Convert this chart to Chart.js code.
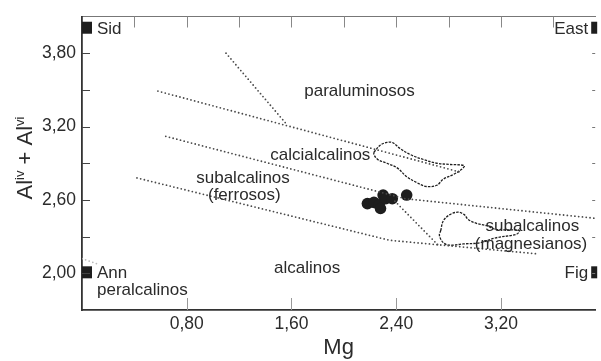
<!DOCTYPE html>
<html>
<head>
<meta charset="utf-8">
<script src="https://cdn.jsdelivr.net/npm/chart.js@4"></script>
<style>
  html, body { margin: 0; padding: 0; background: #fff; }
  #wrap { width: 601px; height: 361px; }
</style>
</head>
<body>
<div id="wrap"><canvas id="chart"></canvas></div>
<script>
// axis ticks
const xTicksBottom = [0.8, 1.6, 2.4, 3.2];
const xTicksTop = [0.4, 0.8, 1.2, 1.6, 2.0, 2.4, 2.8, 3.2, 3.6];
const yTicks = [2.0, 2.3, 2.6, 2.9, 3.2, 3.5, 3.8];
const yTickLabels = [2.0, 2.6, 3.2, 3.8];

// biotite analyses
const sampleMg = [2.18, 2.23, 2.27, 2.28, 2.30, 2.32, 2.37, 2.48];
const sampleAl = [2.57, 2.58, 2.56, 2.53, 2.64, 2.61, 2.61, 2.64];

// dotted field boundaries, [Mg, Al]
const lineParalum = [[1.10, 3.80], [1.57, 3.21]];
const lineUpper = [[0.58, 3.49], [2.88, 2.83]];
const lineMiddle = [[0.64, 3.12], [2.47, 2.61], [3.92, 2.45]];
const lineLower = [[0.42, 2.78], [2.35, 2.27], [3.47, 2.16]];
const lineShort = [[2.39, 2.59], [2.73, 2.22]];
const lineAnn = [[0.0, 2.12], [0.11, 2.08]];

// dashed outlines
const fieldCalc = [[2.23,2.99],[2.28,3.05],[2.33,3.07],[2.37,3.07],[2.43,3.02],[2.51,2.97],[2.61,2.93],[2.71,2.90],[2.81,2.89],[2.92,2.88],[2.90,2.85],[2.84,2.81],[2.76,2.77],[2.71,2.72],[2.63,2.71],[2.56,2.74],[2.48,2.79],[2.41,2.86],[2.33,2.90],[2.26,2.93],[2.23,2.97],[2.23,2.99]];
const fieldMagn = [[2.74,2.35],[2.76,2.43],[2.81,2.48],[2.87,2.50],[2.92,2.48],[2.95,2.44],[3.01,2.41],[3.09,2.39],[3.16,2.36],[3.34,2.35],[3.32,2.32],[3.16,2.29],[3.04,2.25],[2.91,2.24],[2.81,2.23],[2.76,2.25],[2.73,2.31],[2.74,2.35]];

// end members
const endNames = ['Sid', 'East', 'Ann', 'Fig'];
const endMg = [0, 3.92, 0, 3.92];
const endAl = [4.0, 4.0, 2.0, 2.0];

// field names (centre Mg, baseline Al)
const fieldNames = ['paraluminosos', 'calcialcalinos', 'subalcalinos', '(ferrosos)', 'alcalinos', 'subalcalinos', '(magnesianos)', 'peralcalinos'];
const fieldMg = [2.12, 1.82, 1.23, 1.24, 1.72, 3.44, 3.43, 0.44];
const fieldAl = [3.45, 2.93, 2.74, 2.60, 2.00, 2.35, 2.20, 1.82];

const FONT = "'Liberation Sans', Arial, sans-serif";
const TXT = '#2b2b2b';

const pts = arr => arr.map(p => ({x: p[0], y: p[1]}));
const fmt = v => v.toFixed(2).replace('.', ',');

function dotted(data, color) {
    return {
        data: pts(data), showLine: true, pointRadius: 0, fill: false,
        borderColor: color || '#4a4a4a', borderWidth: 1.8,
        borderDash: [0, 3.8], borderCapStyle: 'round', tension: 0
    };
}
function outline(data) {
    return {
        data: pts(data), showLine: true, pointRadius: 0, fill: false,
        borderColor: '#1e1e1e', borderWidth: 1.3,
        borderDash: [2.5, 1.2], tension: 0.35
    };
}

// short tick marks drawn inside the frame
const insideTicks = {
    id: 'insideTicks',
    afterDraw(chart) {
        const {ctx, chartArea: a, scales} = chart;
        ctx.save();
        ctx.lineWidth = 1;
        ctx.strokeStyle = '#444';
        scales.y.ticks.forEach(t => {
            const y = Math.round(scales.y.getPixelForValue(t.value)) + 0.5;
            ctx.beginPath(); ctx.moveTo(a.left, y); ctx.lineTo(a.left + 8, y); ctx.stroke();
        });
        ctx.strokeStyle = '#777';
        scales.yRight.ticks.forEach(t => {
            const y = Math.round(scales.yRight.getPixelForValue(t.value)) + 0.5;
            ctx.beginPath(); ctx.moveTo(a.right - 3, y); ctx.lineTo(a.right, y); ctx.stroke();
        });
        ctx.strokeStyle = '#999';
        scales.x.ticks.forEach(t => {
            const x = Math.round(scales.x.getPixelForValue(t.value)) + 0.5;
            ctx.beginPath(); ctx.moveTo(x, a.bottom); ctx.lineTo(x, a.bottom - 12); ctx.stroke();
        });
        ctx.strokeStyle = '#888';
        scales.xTop.ticks.forEach(t => {
            const x = Math.round(scales.xTop.getPixelForValue(t.value)) + 0.5;
            ctx.beginPath(); ctx.moveTo(x, a.top); ctx.lineTo(x, a.top + 11); ctx.stroke();
        });
        ctx.restore();
    }
};

// field names and end members
const diagramText = {
    id: 'diagramText',
    afterDatasetsDraw(chart) {
        const {ctx, scales: {x, y}} = chart;
        ctx.save();
        ctx.fillStyle = TXT;
        ctx.font = '17px ' + FONT;
        ctx.textBaseline = 'alphabetic';
        fieldNames.forEach((name, i) => {
            const px = x.getPixelForValue(fieldMg[i]);
            const py = y.getPixelForValue(fieldAl[i]);
            ctx.textAlign = i === 7 ? 'left' : 'center';
            ctx.fillText(name, i === 7 ? x.getPixelForValue(0) + 15 : px, py);
        });
        endNames.forEach((name, i) => {
            const px = x.getPixelForValue(endMg[i]);
            const py = y.getPixelForValue(endAl[i]);
            const left = endMg[i] === 0;
            ctx.fillStyle = '#1e1e1e';
            ctx.fillRect(left ? px : px - 4, py - 7, left ? 10 : 6, 12);
            ctx.fillStyle = TXT;
            ctx.textAlign = left ? 'left' : 'right';
            ctx.fillText(name, left ? px + 15 : px - 7, py + 5);
        });
        ctx.restore();
    }
};

// rotated y title with superscripts
const yTitle = {
    id: 'yTitle',
    afterDraw(chart) {
        const ctx = chart.ctx;
        const parts = [['Al', 22, 0], ['iv', 13, -8], [' + Al', 22, 0], ['vi', 13, -8]];
        ctx.save();
        ctx.fillStyle = TXT;
        ctx.textBaseline = 'alphabetic';
        ctx.textAlign = 'left';
        let total = 0;
        parts.forEach(p => { ctx.font = p[1] + 'px ' + FONT; total += ctx.measureText(p[0]).width; });
        ctx.translate(32, 158);
        ctx.rotate(-Math.PI / 2);
        let pos = -total / 2;
        parts.forEach(p => {
            ctx.font = p[1] + 'px ' + FONT;
            ctx.fillText(p[0], pos, p[2]);
            pos += ctx.measureText(p[0]).width;
        });
        ctx.restore();
    }
};

const ctx = document.getElementById('chart').getContext('2d');

new Chart(ctx, {
    type: 'scatter',
    data: {
        datasets: [
            dotted(lineParalum),
            dotted(lineUpper),
            dotted(lineMiddle),
            dotted(lineLower),
            dotted(lineShort),
            dotted(lineAnn, '#bbb'),
            outline(fieldCalc),
            outline(fieldMagn),
            {
                data: sampleMg.map((v, i) => ({x: v, y: sampleAl[i]})),
                pointRadius: 5.8, pointBackgroundColor: '#1e1e1e',
                pointBorderWidth: 0, showLine: false
            }
        ]
    },
    options: {
        responsive: true,
        maintainAspectRatio: false,
        animation: false,
        layout: { padding: { top: 13, right: 1, left: 0, bottom: 0 } },
        plugins: { legend: { display: false }, tooltip: { enabled: false } },
        scales: {
            x: {
                type: 'linear', position: 'bottom', min: 0, max: 3.92,
                afterBuildTicks: s => { s.ticks = xTicksBottom.map(v => ({value: v})); },
                afterFit: s => { s.height = 51; },
                grid: { display: false, drawTicks: false },
                border: { display: true, color: '#333', width: 1.8 },
                ticks: {
                    padding: 4, color: TXT, autoSkip: false, maxRotation: 0,
                    font: { family: FONT, size: 17.5 },
                    callback: v => fmt(v)
                },
                title: {
                    display: true, text: 'Mg', color: TXT,
                    font: { family: FONT, size: 22 }, padding: { top: 0, bottom: 0 }
                }
            },
            xTop: {
                type: 'linear', position: 'top', min: 0, max: 3.92,
                afterBuildTicks: s => { s.ticks = xTicksTop.map(v => ({value: v})); },
                afterFit: s => { s.height = 0; },
                grid: { display: false, drawTicks: false },
                border: { display: true, color: '#777', width: 1 },
                ticks: { display: false }
            },
            y: {
                type: 'linear', position: 'left', min: 1.7, max: 4.1,
                afterBuildTicks: s => { s.ticks = yTicks.map(v => ({value: v})); },
                afterFit: s => { s.width = 82; },
                grid: { display: false, drawTicks: false },
                border: { display: true, color: '#333', width: 1.8 },
                ticks: {
                    padding: 6, color: TXT, autoSkip: false,
                    font: { family: FONT, size: 17.5 },
                    callback: v => yTickLabels.some(l => Math.abs(l - v) < 1e-6) ? fmt(v) : ''
                }
            },
            yRight: {
                type: 'linear', position: 'right', min: 1.7, max: 4.1,
                afterBuildTicks: s => { s.ticks = yTicks.map(v => ({value: v})); },
                afterFit: s => { s.width = 0; },
                grid: { display: false, drawTicks: false },
                border: { display: false },
                ticks: { display: false }
            }
        }
    },
    plugins: [insideTicks, diagramText, yTitle]
});
</script>
</body>
</html>
